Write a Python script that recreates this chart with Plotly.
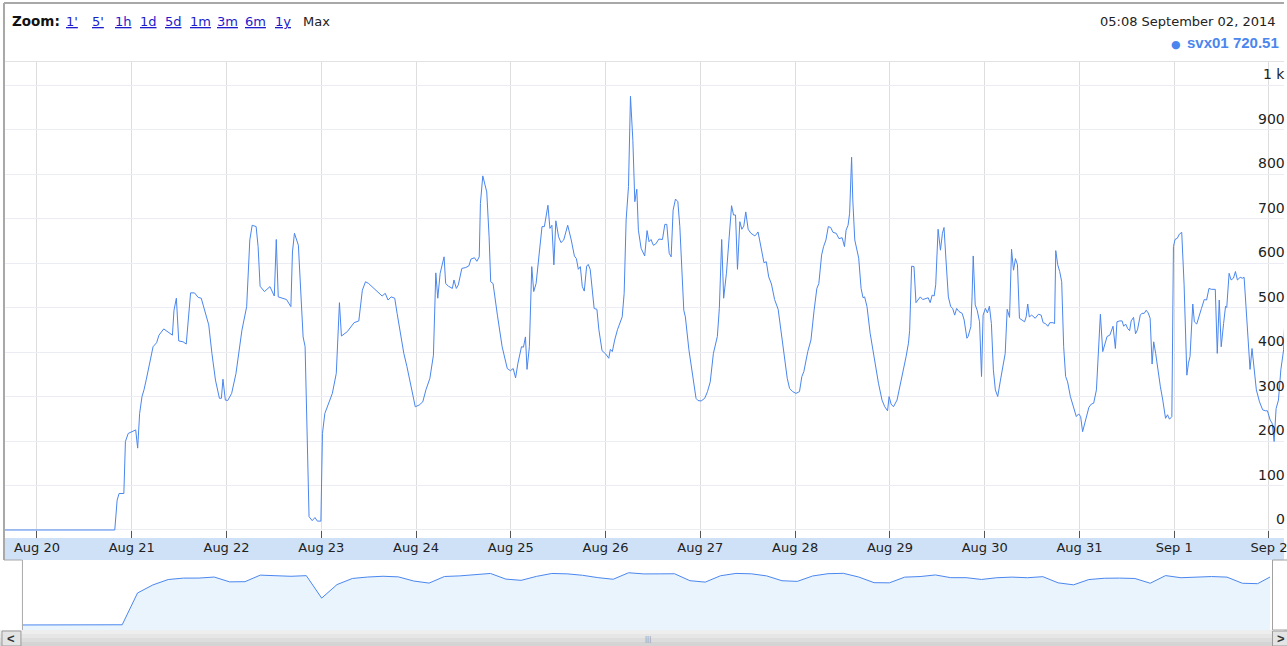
import numpy as np
import pandas as pd
import plotly.graph_objects as go

# ---------------- data ----------------
SERIES_NAME = "svx01"
LAST_VALUE = 720.51
HEADER_TIME = "05:08 September 02, 2014"
ZOOM_LINKS = ["1'", "5'", "1h", "1d", "5d", "1m", "3m", "6m", "1y"]
ZOOM_CURRENT = "Max"

T0 = "2014-08-20 00:00"          # hours below are counted from this instant
VIEW_END = "2014-09-02 03:48"    # right edge of the visible window

hours = [
    -8.1, 19.7, 20.3, 20.8, 22.0, 22.4, 23.1, 24.0, 25.0, 25.5, 26.0, 26.6, 27.1, 27.7, 28.6, 29.4,
    30.3, 30.9, 32.1, 33.2, 34.3, 34.7, 35.3, 35.9, 37.0, 37.8, 38.3, 38.9, 39.9, 40.8, 41.6, 42.4,
    43.5, 44.3, 45.2, 46.2, 46.7, 47.1, 47.7, 48.3, 49.3, 50.4, 51.9, 53.1, 53.9, 54.5, 55.5, 56.0,
    56.5, 57.6, 59.0, 60.1, 60.6, 61.1, 62.2, 63.2, 64.3, 64.7, 65.2, 66.2, 67.4, 67.9, 68.9, 69.7,
    70.4, 71.0, 71.9, 72.3, 72.9, 73.9, 74.8, 75.8, 76.6, 77.1, 78.6, 80.3, 81.5, 82.4, 83.2, 84.0,
    85.3, 87.4, 88.2, 88.9, 89.7, 90.6, 91.2, 92.0, 92.9, 93.7, 94.3, 95.2, 95.8,
    96.8, 97.7, 98.5, 99.5, 100.4, 100.8, 101.0, 101.5, 102.1, 103.1, 103.5, 104.2, 105.2, 105.6,
    106.2, 106.7, 107.6, 108.6, 109.4, 109.9, 110.8, 111.4, 112.0, 112.3, 112.9, 113.9, 114.5, 114.9,
    115.5, 116.6, 117.8, 119.1, 119.9, 120.6, 121.2, 121.8, 122.7, 123.2, 123.7, 124.1, 124.7, 125.3,
    125.8, 126.4, 126.9, 127.5, 127.9, 128.5, 129.4, 129.9, 130.4, 130.9, 131.4, 132.1, 132.7, 133.4,
    134.4, 135.3, 136.1, 136.6, 137.1, 137.6, 138.1, 138.6, 139.2, 139.6, 140.1, 141.1, 141.8, 142.3,
    143.1, 144.0, 144.8, 145.2, 145.7, 146.3, 147.0,
    148.2, 148.7, 149.2, 149.8, 150.3, 150.9, 151.4, 151.9, 152.3, 153.0, 153.9, 154.5, 155.0, 155.5,
    156.1, 156.7, 157.5, 158.4, 159.0, 159.5, 160.1, 160.6, 161.1, 161.7, 162.3, 162.8, 163.8, 164.2,
    165.1, 165.7, 166.3, 166.9, 167.4, 168.2, 169.1, 169.8, 170.5, 171.3, 172.3, 172.8, 173.4, 173.9,
    174.6, 175.3, 175.9, 176.4, 176.9, 177.4, 178.0, 178.5, 179.0, 179.5, 180.1, 180.8, 181.8, 182.2,
    182.6, 183.0, 183.6, 184.1, 184.7, 185.3, 186.0, 186.8, 187.7, 188.5, 189.3, 190.0, 190.6, 191.4,
    192.2, 193.1, 193.7, 194.2, 195.2, 196.0, 196.8, 197.5, 198.0, 198.7, 199.2, 199.8, 200.4,
    201.0, 201.6, 202.4, 203.1, 203.9, 204.5, 204.9, 205.4, 205.8, 206.3, 206.6, 207.1, 208.1, 208.7,
    209.2, 209.6, 210.2, 211.0, 212.1, 213.1, 214.0, 214.7, 215.4, 215.8, 216.3, 216.9, 217.8, 218.6,
    219.4, 220.1, 220.7, 221.0, 221.5, 222.1, 222.6, 223.2, 223.7, 224.3, 225.1, 225.7, 226.2, 226.7,
    227.2, 227.6, 228.2, 228.8, 229.3, 229.7, 230.2, 230.8, 231.4, 231.9, 232.4, 232.9, 233.5, 234.3,
    234.8, 235.5, 235.8, 236.5, 236.8, 237.1, 237.6, 238.1, 238.7, 239.2, 239.6, 240.2, 240.7, 241.2,
    241.7, 242.2, 242.7, 243.3, 244.0, 244.6, 245.2, 245.7, 246.3, 246.8, 247.3, 247.8, 248.3, 248.8,
    249.4, 250.1, 250.5, 250.9, 251.3, 251.9, 252.8,
    253.6, 254.3, 254.8, 255.4, 256.0, 256.5, 257.3, 257.7, 258.0, 258.5, 259.0, 259.5, 260.0, 260.5,
    261.0, 261.7, 262.6, 263.2, 263.8, 264.3, 264.8, 265.5, 266.4, 267.0, 267.6, 268.3, 268.7, 269.3,
    269.9, 270.6, 271.0, 271.7, 272.5, 273.1, 273.5, 274.2, 274.8, 275.2, 275.7, 276.2, 276.7, 277.1,
    277.7, 278.2, 278.7, 279.4, 279.8, 280.4, 280.9, 281.4, 281.9, 282.4, 282.8, 283.3, 283.8, 284.5,
    285.1, 285.8, 286.3, 286.8, 287.4, 287.8, 288.2, 288.8, 289.3, 289.9, 290.5, 291.2, 291.6, 292.0,
    292.7, 293.1, 293.7, 294.3, 294.9, 295.6, 296.2, 296.8, 297.4, 298.4, 298.9, 299.4, 299.9, 300.5,
    301.0, 301.3, 301.9, 302.4, 303.0, 303.5, 304.0, 304.7, 305.3, 305.7, 306.2, 306.8, 307.2, 307.7,
    308.2, 308.8, 309.6, 310.4, 311.1, 311.6, 312.3, 312.8, 313.3, 313.8, 314.4, 315.0, 315.7, 317.13,
]

values = [
    0, 0, 67, 82, 82, 199, 217, 221, 225, 184, 262, 300, 315, 339, 378, 412,
    421, 438, 452, 446, 438, 494, 521, 425, 423, 418, 472, 533, 533, 523, 521, 498,
    461, 397, 337, 296, 296, 339, 292, 291, 307, 352, 449, 502, 652, 685, 682, 637,
    548, 536, 547, 526, 653, 524, 521, 518, 502, 625, 667, 640, 434, 412, 30, 21,
    28, 20, 20, 217, 262, 285, 307, 352, 511, 436, 446, 466, 470, 539, 558, 554,
    543, 526, 532, 517, 524, 521, 487, 442, 397, 367, 340, 300, 277,
    281, 288, 315, 341, 393, 487, 578, 521, 577, 614, 554, 548, 543, 562,
    543, 551, 588, 590, 594, 609, 612, 604, 614, 734, 796, 760, 659, 558,
    554, 483, 412, 363, 358, 363, 342, 375, 412, 411, 434, 361, 412, 592,
    536, 554, 603, 659, 682, 682, 730, 678, 685, 596, 695, 659, 646, 652,
    685, 652, 616, 610, 586, 592, 547, 537, 593, 597, 586, 498, 496, 450,
    403, 396, 386, 406, 401, 427, 450,
    479, 532, 697, 772, 975, 876, 738, 766, 674, 633, 616, 673, 648, 653,
    640, 643, 654, 653, 687, 687, 622, 614, 719, 744, 738, 682, 494, 479,
    405, 371, 330, 296, 291, 290, 296, 311, 333, 397, 435, 498, 653, 521,
    577, 663, 729, 708, 708, 586, 693, 676, 683, 715, 676, 667, 661, 665,
    670, 652, 628, 601, 603, 569, 553, 518, 496, 442, 382, 341, 318, 311,
    307, 311, 345, 356, 401, 427, 494, 543, 554, 618, 637, 652, 682,
    680, 669, 667, 655, 657, 637, 674, 685, 712, 838, 742, 652, 611, 543,
    522, 524, 502, 442, 382, 330, 292, 277, 268, 300, 283, 277, 292, 326,
    356, 390, 420, 449, 593, 592, 511, 517, 524, 518, 521, 522, 511, 528,
    526, 551, 676, 629, 667, 680, 607, 524, 502, 498, 483, 498, 491, 487,
    472, 431, 435, 457, 524, 616, 506, 494, 468, 345, 483, 498, 488, 503,
    464, 360, 315, 300, 337, 367, 397, 496, 478, 631, 584, 610, 596, 476,
    472, 468, 479, 508, 479, 483, 476,
    485, 483, 466, 464, 458, 466, 466, 464, 628, 596, 581, 558, 412, 345,
    333, 300, 273, 255, 261, 255, 221, 247, 276, 283, 285, 315, 397, 485,
    401, 420, 435, 438, 458, 408, 468, 470, 470, 458, 463, 453, 448, 470,
    478, 441, 450, 483, 487, 487, 494, 488, 476, 373, 423, 397, 360, 322,
    292, 251, 259, 249, 255, 637, 653, 656, 665, 669, 551, 348, 375, 390,
    508, 468, 463, 483, 498, 518, 517, 543, 541, 541, 397, 517, 412, 464,
    503, 500, 577, 562, 566, 581, 562, 568, 566, 568, 502, 420, 361, 408,
    367, 315, 288, 270, 268, 268, 247, 240, 199, 273, 292, 360, 405, 720.51,
]

x_tick_dates = ["2014-08-20", "2014-08-21", "2014-08-22", "2014-08-23", "2014-08-24",
                "2014-08-25", "2014-08-26", "2014-08-27", "2014-08-28", "2014-08-29",
                "2014-08-30", "2014-08-31", "2014-09-01", "2014-09-02"]
x_tick_labels = ["Aug 20", "Aug 21", "Aug 22", "Aug 23", "Aug 24", "Aug 25", "Aug 26",
                 "Aug 27", "Aug 28", "Aug 29", "Aug 30", "Aug 31", "Sep 1", "Sep 2"]
y_tick_values = [0, 100, 200, 300, 400, 500, 600, 700, 800, 900, 1000]
y_tick_labels = ["0", "100", "200", "300", "400", "500", "600", "700", "800", "900", "1 k"]

# ---------------- derived ----------------
W, H = 1287, 646
def px(x):
    return x / W
def py(y):
    return 1 - y / H

t0 = pd.Timestamp(T0)
h_arr = np.array(hours, dtype=float)
v_arr = np.array(values, dtype=float)
times = t0 + pd.to_timedelta(h_arr, unit="h")

# overview (range-selector) series: time-binned means of the main series
grid = np.arange(h_arr[0], h_arr[-1], 1 / 6)
gv = np.interp(grid, h_arr, v_arr)
BIN_H = 4.0
grp = np.floor((grid - grid[0]) / BIN_H).astype(int)
s = pd.Series(gv).groupby(grp).mean()
centers = h_arr[0] + (s.index.values + 0.5) * BIN_H
ov_h = np.concatenate([[h_arr[0]], centers, [h_arr[-1]]])
ov_v = np.concatenate([[s.values[0]], s.values, [s.values[-1]]])
ov_times = t0 + pd.to_timedelta(ov_h, unit="h")
ov_y = np.log10(ov_v + 10)

FONT = "DejaVu Sans"
LINE_BLUE = "#4a86ee"

fig = go.Figure()
fig.add_trace(go.Scatter(x=times, y=v_arr, mode="lines",
                         line=dict(color=LINE_BLUE, width=1),
                         xaxis="x", yaxis="y", hoverinfo="skip", showlegend=False))
fig.add_trace(go.Scatter(x=ov_times, y=ov_y, mode="lines", fill="tozeroy",
                         fillcolor="#eaf4fd", line=dict(color=LINE_BLUE, width=1),
                         xaxis="x2", yaxis="y2", hoverinfo="skip", showlegend=False))

shapes = []
def rect(x0, y0, x1, y1, fill, line=None, lw=0, layer="above"):
    shapes.append(dict(type="rect", xref="paper", yref="paper",
                       x0=px(x0), x1=px(x1), y0=py(y1), y1=py(y0),
                       fillcolor=fill, line=dict(color=line or fill, width=lw), layer=layer))
def hline(x0, x1, y, color, w=1):
    shapes.append(dict(type="line", xref="paper", yref="paper",
                       x0=px(x0), x1=px(x1), y0=py(y), y1=py(y),
                       line=dict(color=color, width=w), layer="above"))
def vline(x, y0, y1, color, w=1):
    shapes.append(dict(type="line", xref="paper", yref="paper",
                       x0=px(x), x1=px(x), y0=py(y0), y1=py(y1),
                       line=dict(color=color, width=w), layer="above"))

# x-axis label band
rect(5, 538, 1287, 560, "#cfe1f6", layer="below")
# frame lines
hline(4, 1287, 3, "#a8a8a8", 2)
vline(4, 3, 560, "#a8a8a8", 2)
hline(4, 22, 560, "#a8a8a8", 1)
vline(22.5, 560, 630, "#a8a8a8", 1)
hline(5, 1287, 61.5, "#e2e2e2", 1)
# right slider handle
rect(1275.5, 560, 1295, 630, "#ffffff", "#a0a0a0", 1)
# scrollbar
rect(0, 630, 1287, 634, "#eeeeee")
rect(0, 634, 1287, 638, "#e6e6e6")
rect(0, 638, 1287, 642, "#dddddd")
rect(0, 642, 1287, 646, "#d4d4d4")
rect(2, 631, 21, 646, "#e4e4e4", "#9a9a9a", 1)
rect(1275.5, 631, 1295, 646, "#e4e4e4", "#9a9a9a", 1)

ann = []
def text(x, y, t, size=13, color="#222", anchor="left", family=FONT, yanchor="middle"):
    ann.append(dict(x=px(x), y=py(y), xref="paper", yref="paper", text=t, showarrow=False,
                    xanchor=anchor, yanchor=yanchor,
                    font=dict(family=family, size=size, color=color)))

text(10.5, 21, "<b>Zoom:</b>", size=13.5, color="#111")
link_x = [64, 90, 113, 138, 163, 188, 216, 244, 274]
for xx, lab in zip(link_x, ZOOM_LINKS):
    text(xx, 21, '<span style="text-decoration:underline">%s</span>' % lab,
         size=13, color="#1c1ccc")
text(302, 21, ZOOM_CURRENT, size=13, color="#222")
text(1280, 21, HEADER_TIME, size=13, color="#222", anchor="right")
text(1178.5, 44, "●", size=11, color=LINE_BLUE, anchor="center")
text(1284, 43, "<b>%s %.2f</b>" % (SERIES_NAME, LAST_VALUE), size=15,
     color=LINE_BLUE, anchor="right", family="Liberation Sans")
# scrollbar glyphs
text(11.5, 638.5, "<b>&lt;</b>", size=13, color="#333", anchor="center", family="Liberation Sans")
text(1278, 638.5, "<b>&gt;</b>", size=13, color="#333", anchor="left", family="Liberation Sans")
text(650, 638, "|||", size=8, color="#999", anchor="center", family="Liberation Sans")

# y tick labels inside the plot, above each gridline
for val, lab in zip(y_tick_values, y_tick_labels):
    ann.append(dict(x=1, y=val, xref="paper", yref="y", text=lab, showarrow=False,
                    xanchor="right", yanchor="middle", yshift=11, xshift=3,
                    font=dict(family=FONT, size=14, color="#222")))

fig.update_layout(
    width=W, height=H, margin=dict(l=0, r=0, t=0, b=0),
    paper_bgcolor="white", plot_bgcolor="white", showlegend=False,
    xaxis=dict(domain=[px(5), 1], range=[times[0], pd.Timestamp(VIEW_END)], type="date",
               tickmode="array", tickvals=x_tick_dates, ticktext=x_tick_labels,
               ticks="inside", ticklen=7, tickcolor="#555", tickwidth=1,
               ticklabeloverflow="allow",
               showgrid=True, gridcolor="#dedede", gridwidth=1,
               zeroline=False, showline=False, anchor="y",
               tickfont=dict(family=FONT, size=13, color="#222"), fixedrange=True),
    yaxis=dict(domain=[py(538), py(62)], range=[-18, 1052],
               tickmode="array", tickvals=y_tick_values, showticklabels=False,
               showgrid=True, gridcolor="#ececf5", gridwidth=1,
               zeroline=False, showline=False, ticks="", fixedrange=True),
    xaxis2=dict(domain=[px(22.5), px(1273)], range=[times[0], times[-1]], type="date",
                visible=False, anchor="y2", fixedrange=True),
    yaxis2=dict(domain=[py(630), py(560)], range=[0.82, 3.32], visible=False,
                anchor="x2", fixedrange=True),
    shapes=shapes, annotations=ann,
)

fig.write_html("out.html", config={"displayModeBar": False},
               post_script="document.body.style.margin='0';"
                           "document.body.style.padding='0';"
                           "document.body.style.overflow='hidden';")
